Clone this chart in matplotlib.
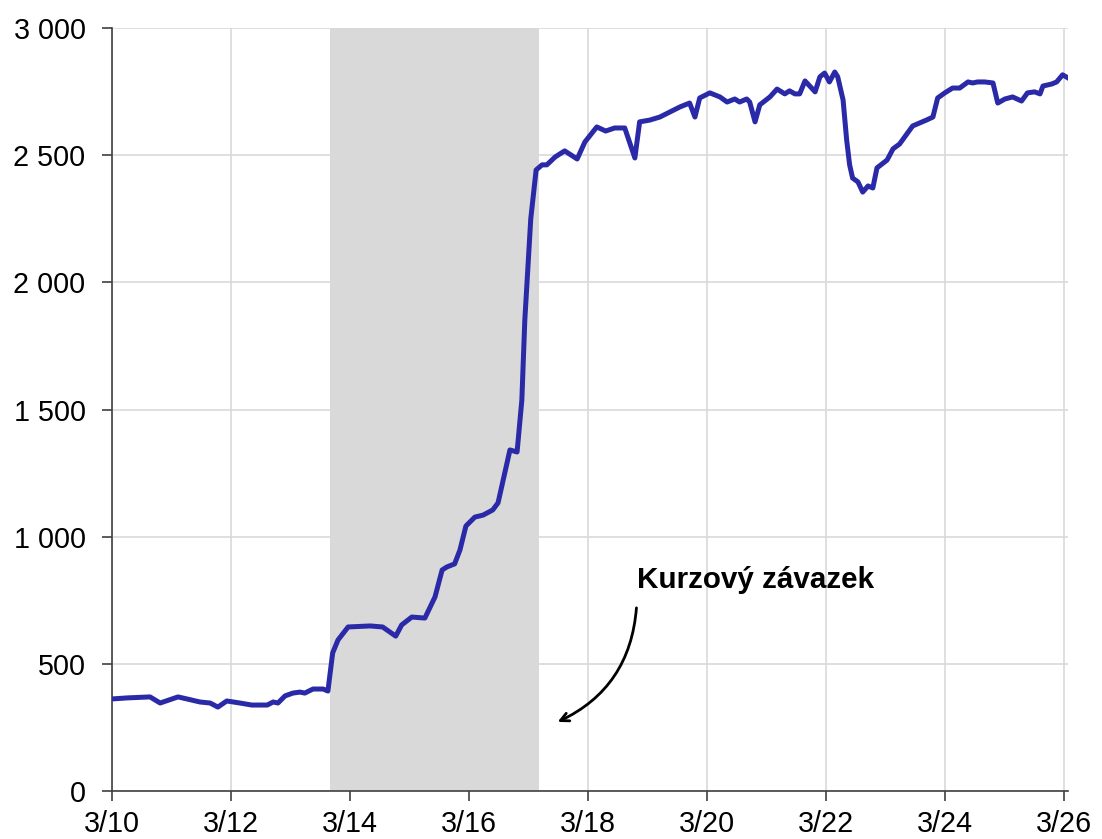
import matplotlib.pyplot as plt
import numpy as np

plt.rcParams['font.family'] = ['Liberation Sans', 'DejaVu Sans']

# day of March (fractional) and value
days = np.array([
    10.00, 10.25, 10.64, 10.81, 11.11, 11.26, 11.48, 11.65, 11.78, 11.93,
    12.15, 12.35, 12.61, 12.71, 12.79, 12.91, 13.04, 13.16, 13.24, 13.38,
    13.55, 13.63, 13.71, 13.80, 13.97, 14.34, 14.55, 14.77, 14.87, 15.04,
    15.26, 15.43, 15.55, 15.63, 15.76, 15.85, 15.95, 16.10, 16.24, 16.40,
    16.49, 16.69, 16.81, 16.89, 16.94, 17.04, 17.13, 17.23, 17.31, 17.45,
    17.61, 17.82, 17.95, 18.15, 18.30, 18.45, 18.62, 18.79, 18.87, 19.04,
    19.21, 19.55, 19.71, 19.80, 19.88, 20.05, 20.22, 20.34, 20.47, 20.55,
    20.67, 20.72, 20.81, 20.89, 21.06, 21.18, 21.31, 21.39, 21.48, 21.56,
    21.65, 21.82, 21.90, 21.98, 22.06, 22.15, 22.20, 22.29, 22.35, 22.40,
    22.45, 22.54, 22.62, 22.71, 22.79, 22.86, 23.03, 23.13, 23.24, 23.46,
    23.58, 23.70, 23.80, 23.88, 24.00, 24.13, 24.25, 24.39, 24.47, 24.55,
    24.67, 24.81, 24.89, 25.01, 25.14, 25.29, 25.39, 25.51, 25.60, 25.65,
    25.80, 25.88, 25.98, 26.07])
values = np.array([
    362, 366, 370, 346, 370, 362, 350, 346, 330, 354,
    346, 338, 338, 350, 346, 374, 385, 389, 385, 401,
    401, 393, 543, 594, 645, 649, 645, 609, 653, 684,
    680, 763, 869, 881, 893, 948, 1042, 1077, 1085, 1105,
    1133, 1341, 1333, 1537, 1852, 2250, 2442, 2462, 2462, 2493,
    2517, 2485, 2552, 2611, 2595, 2607, 2607, 2489, 2631, 2638,
    2650, 2690, 2705, 2650, 2725, 2745, 2729, 2709, 2721, 2709,
    2721, 2709, 2631, 2698, 2729, 2760, 2741, 2753, 2741, 2741,
    2792, 2749, 2808, 2823, 2788, 2827, 2808, 2717, 2560, 2462,
    2410, 2395, 2355, 2379, 2371, 2450, 2481, 2525, 2544, 2615,
    2627, 2639, 2650, 2725, 2745, 2764, 2764, 2788, 2784, 2788,
    2788, 2784, 2705, 2721, 2729, 2713, 2745, 2749, 2741, 2772,
    2780, 2788, 2816, 2804])

shade = (13.66, 17.18)
xticks = [10, 12, 14, 16, 18, 20, 22, 24, 26]
xlabels = ['3/%d' % d for d in xticks]
yticks = [0, 500, 1000, 1500, 2000, 2500, 3000]
ylabels = ['0', '500', '1 000', '1 500', '2 000', '2 500', '3 000']

fig = plt.figure(figsize=(11.02, 8.39), dpi=100)
ax = fig.add_axes([0.1016, 0.0572, 0.8675, 0.9094])

ax.axvspan(*shade, color='#d9d9d9', zorder=1, lw=0)
ax.plot(days, values, color='#2a2aa8', lw=3.6, zorder=3, solid_joinstyle='round')

ax.set_xlim(10, 26.07)
ax.set_ylim(0, 3000)
ax.set_xticks(xticks)
ax.set_xticklabels(xlabels)
ax.set_yticks(yticks)
ax.set_yticklabels(ylabels)
ax.tick_params(labelsize=20.7, length=7, width=1.2, color='#404040')
ax.tick_params(axis='y', pad=12)
ax.tick_params(axis='x', pad=7)
ax.set_axisbelow(True)
ax.grid(True, color='#d9d9d9', lw=1.2)
for s in ['top', 'right']:
    ax.spines[s].set_visible(False)
for s in ['left', 'bottom']:
    ax.spines[s].set_color('#404040')
    ax.spines[s].set_linewidth(1.2)

ax.text(18.82, 800, 'Kurzový závazek', fontsize=21.3, fontweight='bold', ha='left', va='baseline')
ax.annotate('', xy=(17.45, 267), xytext=(18.82, 731),
            arrowprops=dict(arrowstyle='->,head_length=0.6,head_width=0.3', color='black', lw=2,
                            connectionstyle='arc3,rad=-0.3'))

fig.savefig('out.png', dpi=100)
